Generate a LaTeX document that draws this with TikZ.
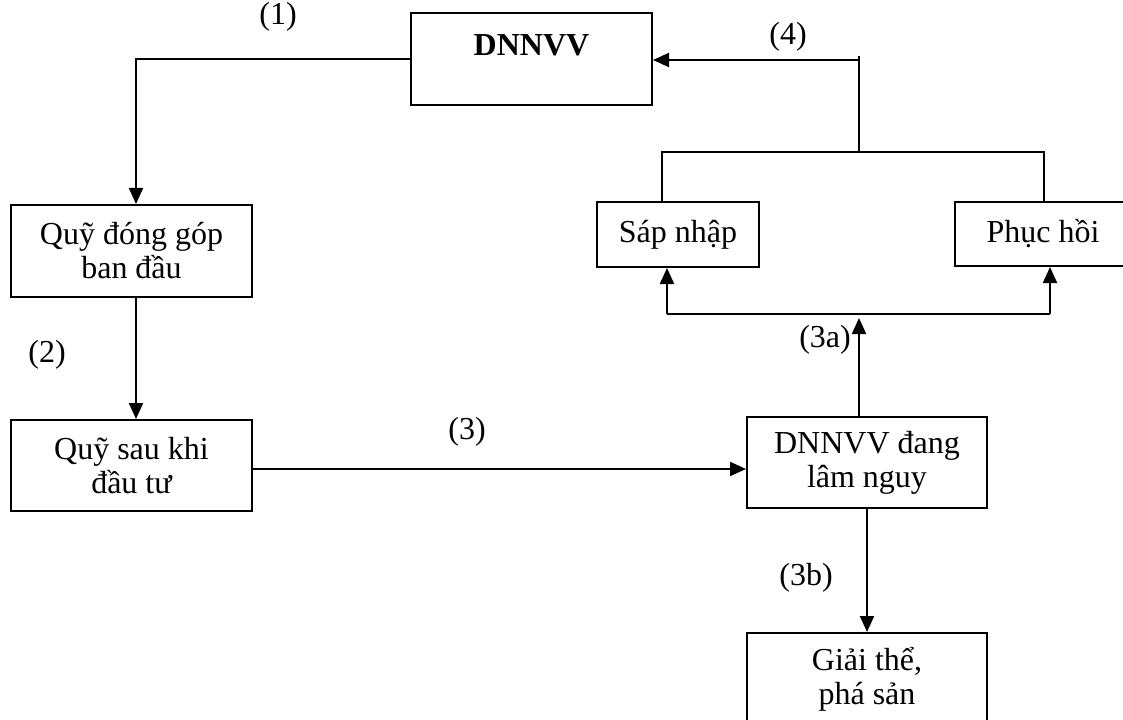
\documentclass[tikz,border=0pt]{standalone}
\usepackage{fontspec}
\setmainfont{Liberation Serif}
\usetikzlibrary{arrows.meta,calc}
\newlength{\pxu}\setlength{\pxu}{0.75pt}
\begin{document}
\begin{tikzpicture}[x=0.75pt,y=-0.75pt,
  box/.style={draw,line width=1.5pt,inner sep=0pt,align=center,font=\fontsize{24}{25.5}\selectfont},
  lbl/.style={inner sep=0pt,font=\fontsize{24}{25.5}\selectfont},
  ln/.style={line width=1.5pt},
  arr/.style={line width=1.5pt,-{Triangle[length=12pt,width=10.5pt]}}]
\clip (0,0) rectangle (1123,720);
% boxes
\node[box,minimum width=241\pxu,minimum height=92\pxu] (dn) at (531.5,59) {};
\node[lbl] (dnt) at (531.5,45) {\textbf{DNNVV}};
\node[box,minimum width=241\pxu,minimum height=92\pxu] (qd) at (131.5,251) {Quỹ đóng góp\\ban đầu};
\node[box,minimum width=241\pxu,minimum height=91\pxu] (qs) at (131.5,465.5) {Quỹ sau khi\\đầu tư};
\node[box,minimum width=240\pxu,minimum height=91\pxu] (lam) at (867,462.5) {DNNVV đang\\lâm nguy};
\node[box,minimum width=240\pxu,minimum height=92\pxu] (gt) at (867,679) {Giải thể,\\phá sản};
\node[box,minimum width=162\pxu,minimum height=65\pxu] (sn) at (678,234.5) {Sáp nhập};
\node[box,minimum width=176\pxu,minimum height=64\pxu] (ph) at (1043,234) {Phục hồi};
% coordinates
\coordinate (c1) at (136,59);
\coordinate (bl) at (667,314);
\coordinate (bm) at (859,314);
\coordinate (br) at (1050,314);
\coordinate (tl) at (662,152);
\coordinate (tm) at (859,152);
\coordinate (tr) at (1044,152);
\coordinate (tt) at (859,56);
\coordinate (t4) at (859,60);
% connectors
\draw[arr] (dn.west) -- (c1) -- (c1 |- qd.north);
\draw[arr] (qd.south -| c1) -- (qs.north -| c1);
\draw[arr] ($(qs.east)+(0,3.5)$) -- ($(lam.west)+(0,6.5)$);
\draw[arr] (lam.north -| bm) -- ($(bm)+(0,4)$);
\draw[ln] (bl) -- (br);
\draw[arr] (bl) -- (sn.south -| bl);
\draw[arr] (br) -- (ph.south -| br);
\draw[arr] (lam.south) -- (gt.north);
\draw[ln] (sn.north -| tl) -- (tl) -- (tr) -- (ph.north -| tr);
\draw[ln] (tm) -- (tt);
\draw[arr] (t4) -- (dn.east |- t4);
% labels
\node[lbl] (l1) at (278,17) {(1)};
\node[lbl] (l2) at (47,355) {(2)};
\node[lbl] (l3) at (467,432) {(3)};
\node[lbl] (l3a) at (825,340) {(3a)};
\node[lbl] (l3b) at (806,578) {(3b)};
\node[lbl] (l4) at (788,37) {(4)};
\end{tikzpicture}
\end{document}
